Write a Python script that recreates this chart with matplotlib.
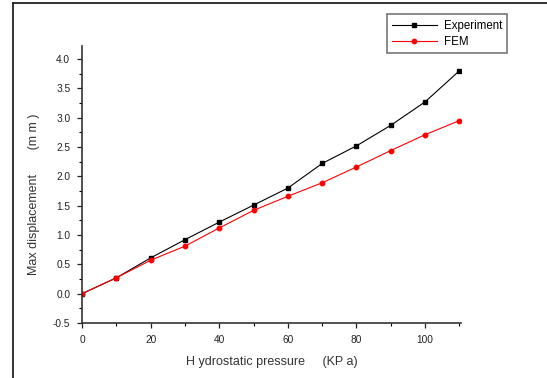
import matplotlib
matplotlib.use("Agg")
import matplotlib.pyplot as plt
from matplotlib.lines import Line2D
from matplotlib.ticker import MultipleLocator

pressure = [0, 10, 20, 30, 40, 50, 60, 70, 80, 90, 100, 110]
experiment = [0.0, 0.27, 0.61, 0.92, 1.22, 1.51, 1.80, 2.22, 2.52, 2.87, 3.27, 3.80]
fem = [0.0, 0.27, 0.57, 0.81, 1.12, 1.42, 1.66, 1.89, 2.16, 2.44, 2.71, 2.95]
xticks = [0, 20, 40, 60, 80, 100]
yticks = [-0.5, 0.0, 0.5, 1.0, 1.5, 2.0, 2.5, 3.0, 3.5, 4.0]

plt.rcParams['font.family'] = ['Liberation Sans', 'DejaVu Sans']

fig = plt.figure(figsize=(5.47, 3.78), dpi=100)
ax = fig.add_axes([0.150, 0.1455, 0.693, 0.7325])

ax.plot(pressure, experiment, color='black', lw=0.8, marker='s', ms=3.2, label='Experiment')
ax.plot(pressure, fem, color='red', lw=0.8, marker='o', ms=3.2, label='FEM')

ax.set_xlim(0, 110.5)
ax.set_ylim(-0.5, 4.22)
ax.set_xticks(xticks)
ax.set_xticklabels([str(v) for v in xticks])
ax.set_yticks(yticks)
ax.set_yticklabels([f"{v:.1f}" for v in yticks])
ax.xaxis.set_minor_locator(MultipleLocator(10))
ax.yaxis.set_minor_locator(MultipleLocator(0.25))
ax.tick_params(axis='both', which='major', direction='out', length=3.5, width=0.9,
               labelsize=7.3, colors='#222222', pad=5)
ax.tick_params(axis='both', which='minor', direction='out', length=2.5, width=0.8)

for s in ['top', 'right']:
    ax.spines[s].set_visible(False)
for s in ['left', 'bottom']:
    ax.spines[s].set_linewidth(1.2)
    ax.spines[s].set_color('#333333')

ax.set_xlabel('H ydrostatic pressure     (KP a)', fontsize=9, labelpad=8, color='#333333')
ax.set_ylabel('Max displacement       (m m )', fontsize=9, color='#333333')
ax.yaxis.set_label_coords(-0.111, 0.466)

leg = ax.legend(loc='upper right', bbox_to_anchor=(0.938, 0.977),
                bbox_transform=fig.transFigure, fontsize=8.3, frameon=True,
                fancybox=False, edgecolor='#555555', handlelength=3.9,
                borderpad=0.45, labelspacing=0.35, handletextpad=0.6)
leg.get_frame().set_linewidth(1.2)

# outer frame lines
fig.add_artist(Line2D([13 / 547, 13 / 547], [0, 1 - 3 / 378], transform=fig.transFigure,
                      color='#222222', lw=1.3))
fig.add_artist(Line2D([13 / 547, 1], [1 - 3 / 378, 1 - 3 / 378], transform=fig.transFigure,
                      color='#222222', lw=1.3))

fig.savefig('out.png', dpi=100)
